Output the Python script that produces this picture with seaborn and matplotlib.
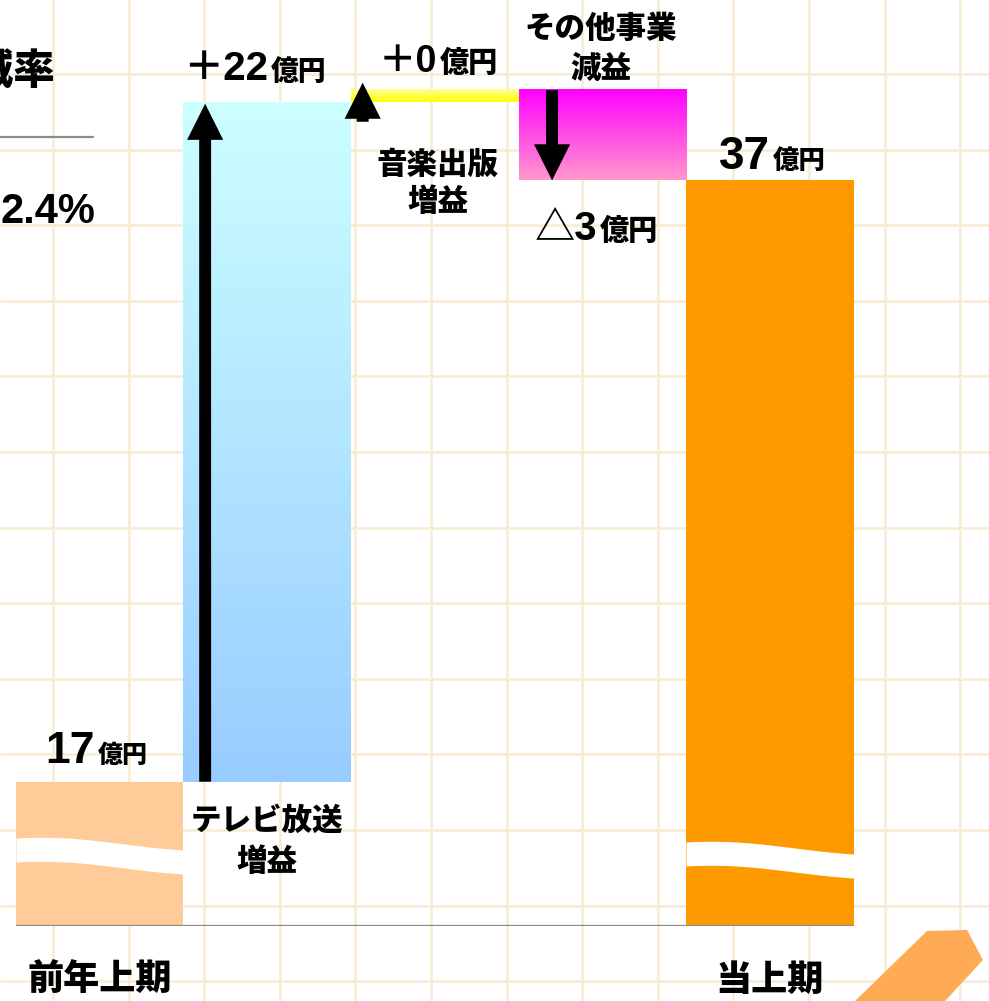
import numpy as np
import matplotlib
matplotlib.use("Agg")
import matplotlib.pyplot as plt
import seaborn as sns
from matplotlib.patches import Polygon
from matplotlib.colors import to_rgb

# 営業利益の増減（億円）
categories = ["前年上期", "テレビ放送", "音楽出版", "その他事業", "当上期"]
prev_profit = 17.0
tv_change = 22.6
music_change = 0.4
other_change = -3.0
cur_profit = 37.0
axis_floor = 12.2   # 波線で省略した軸の下端
axis_top = 43.0

value_labels = ["17", "＋22", "＋0", "△3", "37"]
unit_label = "億円"
change_labels = ["テレビ放送\n増益", "音楽出版\n増益", "その他事業\n減益"]
side_title = "増減率"
side_value = "2.4%"

bar_colors = ["#FFCC99", "#CCFFFF", "#FFFF66", "#FF55EE", "#FF9900"]
gradients = {1: ("#CCFFFF", "#99CCFF"), 2: ("#FFFF99", "#FFFF00"), 3: ("#FF00FF", "#FF99CC")}

JP = "Noto Sans CJK JP"
NUM = ["Liberation Sans", "Noto Sans CJK JP"]
JP_W = 900

sns.set_style("white")
plt.rcParams["font.family"] = NUM
plt.rcParams["text.color"] = "black"
plt.rcParams["xtick.color"] = "black"

W, H = 989, 1001
fig = plt.figure(figsize=(W / 100, H / 100), dpi=100)
fig.patch.set_facecolor("white")

# background grid (pixel coordinates)
bg = fig.add_axes([0, 0, 1, 1], zorder=0)
bg.set_xlim(0, W)
bg.set_ylim(H, 0)
grid_x = 53 + 75.6 * np.arange(13)
grid_y = 74 + 75.6 * np.arange(13)
bg.vlines(grid_x, 0, H, color="#F8EDD6", lw=2.0)
bg.hlines(grid_y, 0, W, color="#F8EDD6", lw=2.0)
bg.axis("off")

# waterfall bars (data coordinates)
ax = fig.add_axes([0, 75 / H, 1, 926 / H], zorder=1)
ax.patch.set_alpha(0)
lvl1 = prev_profit + tv_change
lvl2 = lvl1 + music_change
lvl3 = lvl2 + other_change
bottoms = [axis_floor, prev_profit, lvl1, lvl3, axis_floor]
heights = [prev_profit - axis_floor, tv_change, music_change, -other_change, cur_profit - axis_floor]

sns.barplot(x=categories, y=heights, bottom=bottoms, width=1.0, color="white",
            errorbar=None, linewidth=0, ax=ax)

for i, p in enumerate(ax.patches):
    p.set_facecolor(bar_colors[i])
    p.set_edgecolor("none")
    if i in gradients:
        top_c, bot_c = gradients[i]
        t = np.linspace(0, 1, 256)[:, None]
        grad = (1 - t) * np.array(to_rgb(top_c)) + t * np.array(to_rgb(bot_c))
        x0, y0, w, h = p.get_x(), p.get_y(), p.get_width(), p.get_height()
        ax.imshow(grad[:, None, :], extent=[x0, x0 + w, y0, y0 + h], aspect="auto",
                  origin="upper", zorder=p.get_zorder() + 0.1, interpolation="bilinear")

ax.hlines(axis_floor, -0.5, 4.5, color="#8A8A8A", lw=1.6, zorder=5)

# arrows
def arrow(x, y_from, y_to):
    ax.annotate("", xy=(x, y_to), xytext=(x, y_from),
                arrowprops=dict(arrowstyle="simple,head_length=1.0,head_width=1.0,tail_width=0.33",
                                mutation_scale=26, fc="black", ec="none",
                                shrinkA=0, shrinkB=0), zorder=6)

arrow(0.63, prev_profit, lvl1 - 0.05)
arrow(1.57, lvl2 - 1.05, lvl2 + 0.25)
arrow(2.70, lvl2, lvl3)

ax.set_xlim(-0.594, 5.307)
ax.set_ylim(axis_floor, axis_top)
ax.set_xticks([0, 4], [categories[0], categories[4]])
ax.set_yticks([])
ax.tick_params(axis="x", length=0, pad=26)
for lab in ax.get_xticklabels():
    lab.set_fontfamily(JP)
    lab.set_fontweight(JP_W)
    lab.set_fontsize(26)
    lab.set_color("black")
sns.despine(ax=ax, left=True, bottom=True)
ax.set_xlabel("")
ax.set_ylabel("")

# overlay: texts, axis-break waves, decoration (pixel coordinates)
ov = fig.add_axes([0, 0, 1, 1], zorder=2)
ov.set_xlim(0, W)
ov.set_ylim(H, 0)
ov.axis("off")

def wave(x0, x1, y0, band=24):
    xs = np.linspace(x0, x1, 100)
    t = (xs - x0) / (x1 - x0)
    f = 6 * (1 - np.cos(np.pi * t)) - 3 * np.sin(np.pi * t)
    ov.fill_between(xs, y0 + f, y0 + f + band, color="white", lw=0)

wave(16, 184, 838)
wave(686, 854, 842)

def value_label(big, right, base, big_size, small_size):
    ov.text(right, base, big, ha="right", va="baseline", fontsize=big_size,
            fontweight="bold", family=NUM)
    ov.text(right + 3, base, unit_label, ha="left", va="baseline", fontsize=small_size,
            fontweight=JP_W, family=JP)

value_label(value_labels[0], 95, 763, 32, 18)
value_label(value_labels[1], 268, 80, 29, 20)
value_label(value_labels[2], 437, 72, 27, 21)
value_label(value_labels[3], 597, 240, 29, 21)
value_label(value_labels[4], 770, 169, 33, 19)

def two_lines(text, cx, y1, y2, size=22):
    l1, l2 = text.split("\n")
    ov.text(cx, y1, l1, ha="center", va="center", fontsize=size, fontweight=JP_W, family=JP)
    ov.text(cx, y2, l2, ha="center", va="center", fontsize=size, fontweight=JP_W, family=JP)

two_lines(change_labels[0], 267, 820, 861)
two_lines(change_labels[1], 438, 164, 201)
two_lines(change_labels[2], 601, 28, 68)

ov.text(55, 72, side_title, ha="right", va="center", fontsize=30, fontweight=JP_W, family=JP)
ov.plot([0, 93], [137, 137], color="#8A8A8A", lw=1.6)
ov.text(0, 223, side_value, ha="left", va="baseline", fontsize=30, fontweight="bold", family=NUM)

ov.add_patch(Polygon([(855, 1001), (927, 931), (967, 930), (983, 960), (945, 1001)],
                     closed=True, fc="#FFAA55", ec="none"))

fig.savefig("out.png", dpi=100)
